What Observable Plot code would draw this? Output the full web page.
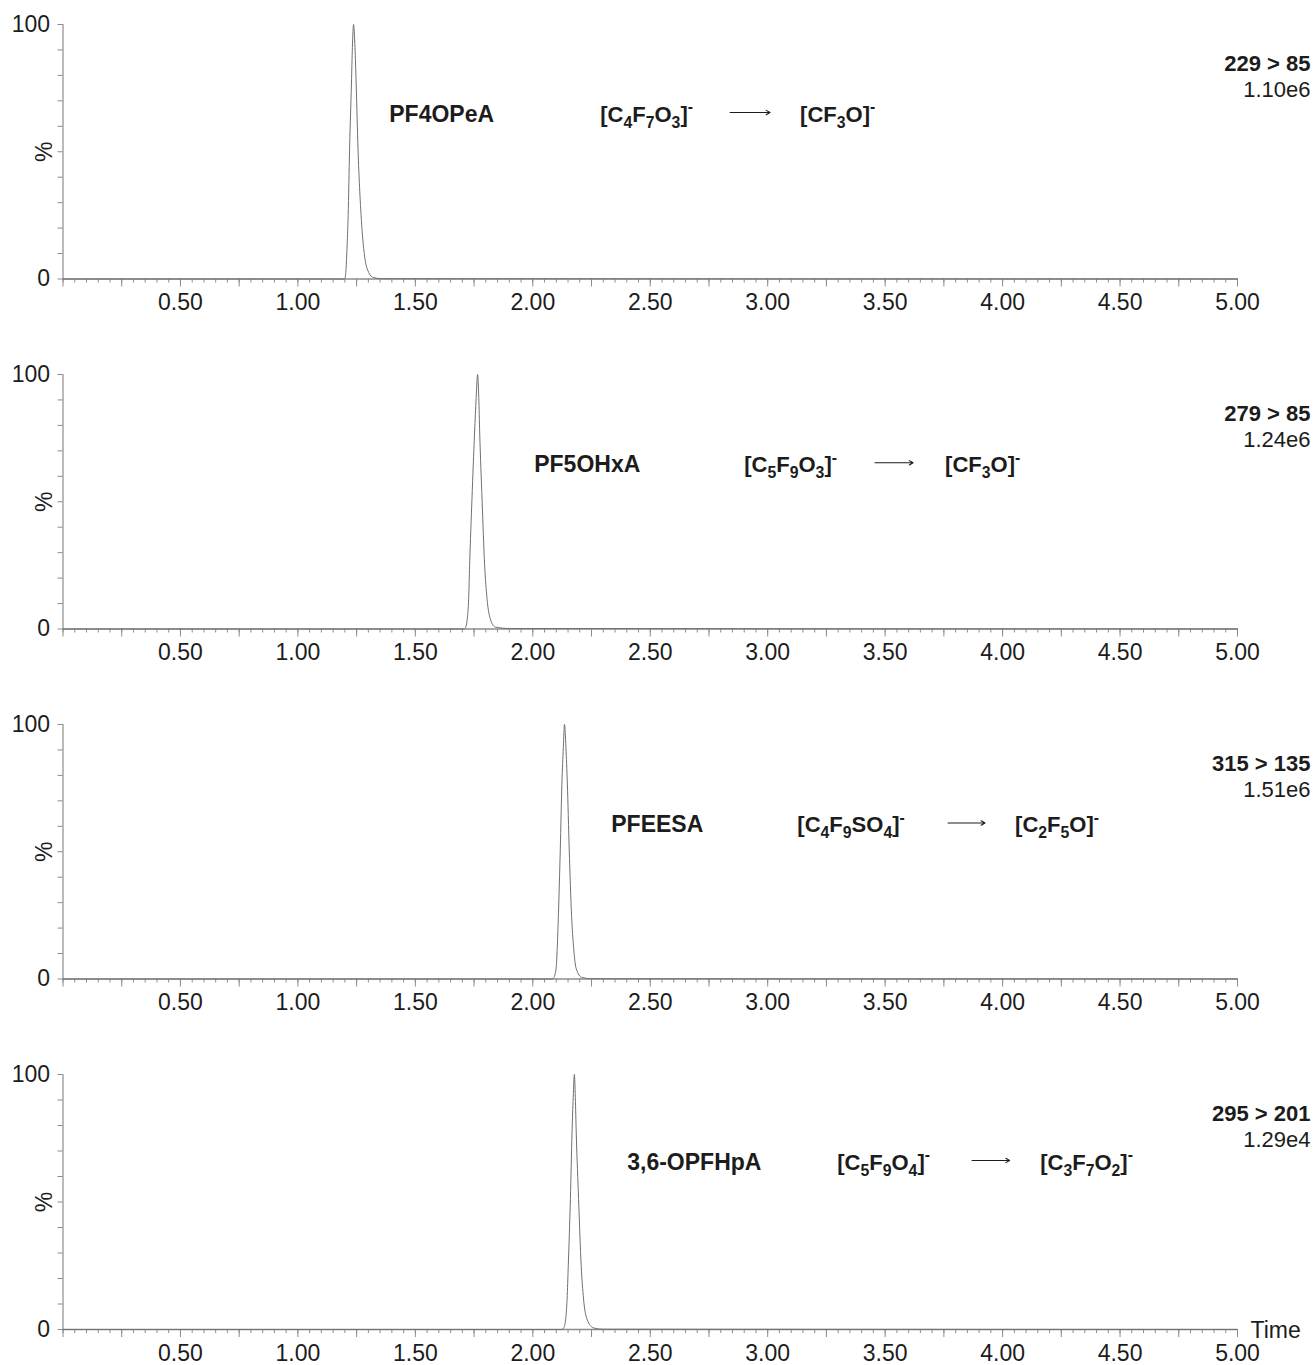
<!DOCTYPE html>
<html><head><meta charset="utf-8">
<script src="https://cdn.jsdelivr.net/npm/d3@7"></script>
<script src="https://cdn.jsdelivr.net/npm/@observablehq/plot@0.6"></script>
<style>
body{margin:0;background:#fff;}
#chart svg{display:block;}
</style></head><body><div id="chart"></div>
<script>
// ---------- data ----------
const compounds = ["PF4OPeA", "PF5OHxA", "PFEESA", "3,6-OPFHpA"];
const transitions = ["229 > 85", "279 > 85", "315 > 135", "295 > 201"];
const intensities = ["1.10e6", "1.24e6", "1.51e6", "1.29e4"];
const precursors = ["[C_4F_7O_3]^-", "[C_5F_9O_3]^-", "[C_4F_9SO_4]^-", "[C_5F_9O_4]^-"];
const products = ["[CF_3O]^-", "[CF_3O]^-", "[C_2F_5O]^-", "[C_3F_7O_2]^-"];
const xTickLabels = [0.50, 1.00, 1.50, 2.00, 2.50, 3.00, 3.50, 4.00, 4.50, 5.00];
const yTickLabels = [0, 100];

const time1 = [0, 1.195, 1.201, 1.205, 1.209, 1.214, 1.220, 1.228, 1.232, 1.237, 1.243, 1.248, 1.256, 1.269, 1.280, 1.295, 1.321, 1.360, 5.00];
const pct1  = [0, 0, 0.5, 4, 12, 25, 51, 77, 91, 100, 91, 77, 51, 25, 12, 4, 0.6, 0.1, 0];
const time2 = [0, 1.705, 1.713, 1.721, 1.727, 1.731, 1.741, 1.752, 1.759, 1.765, 1.770, 1.774, 1.784, 1.795, 1.805, 1.819, 1.840, 1.900, 5.00];
const pct2  = [0, 0, 0.5, 4, 12, 25, 51, 77, 91, 100, 91, 77, 51, 25, 12, 4, 0.8, 0.2, 0];
const time3 = [0, 2.082, 2.089, 2.099, 2.104, 2.109, 2.117, 2.124, 2.130, 2.135, 2.141, 2.147, 2.155, 2.165, 2.174, 2.185, 2.209, 2.250, 5.00];
const pct3  = [0, 0, 0.5, 4, 12, 25, 51, 77, 91, 100, 91, 77, 51, 25, 12, 4, 0.6, 0.1, 0];
const time4 = [0, 2.124, 2.131, 2.140, 2.146, 2.151, 2.160, 2.167, 2.172, 2.177, 2.181, 2.185, 2.195, 2.206, 2.216, 2.231, 2.259, 2.300, 5.00];
const pct4  = [0, 0, 0.5, 4, 12, 25, 51, 77, 91, 100, 91, 77, 51, 25, 12, 4, 0.6, 0.1, 0];

const times = [time1, time2, time3, time4];
const pcts = [pct1, pct2, pct3, pct4];

// ---------- layout (annotation placement) ----------
const annot = [
  {lx: 1.389, ly: 64.6, fx: 2.287, a1: 2.84, a2: 3.01, px: 3.138},
  {lx: 2.006, ly: 64.5, fx: 2.900, a1: 3.457, a2: 3.619, px: 3.755},
  {lx: 2.334, ly: 60.5, fx: 3.126, a1: 3.768, a2: 3.925, px: 4.053},
  {lx: 2.402, ly: 65.5, fx: 3.296, a1: 3.870, a2: 4.030, px: 4.160}
];

const FONT = "'Liberation Sans', Arial, sans-serif";
const TXT = "#1c1c1c";
const AX = "#8c8c8c";
const svgns = "http://www.w3.org/2000/svg";

function richify(el, fs) {
  const s = el.textContent;
  el.textContent = "";
  let shift = 0, i = 0;
  while (i < s.length) {
    let mode = "n", ch;
    if (s[i] === "_") { mode = "sub"; ch = s[i + 1]; i += 2; }
    else if (s[i] === "^") { mode = "sup"; ch = s[i + 1]; i += 2; }
    else { ch = s[i]; i++; }
    const target = mode === "sub" ? fs * 0.28 : mode === "sup" ? -fs * 0.42 : 0;
    const ts = document.createElementNS(svgns, "tspan");
    ts.textContent = ch;
    ts.setAttribute("dy", (target - shift).toFixed(2));
    shift = target;
    if (mode !== "n") ts.setAttribute("font-size", (fs * 0.72).toFixed(1));
    el.appendChild(ts);
  }
}

const container = document.getElementById("chart");

for (let k = 0; k < 4; k++) {
  const last = k === 3;
  const trace = times[k].map((t, i) => ({t, p: pcts[k][i]}));
  const a = annot[k];
  const minor = d3.range(0, 5.0001, 0.05);
  const major = d3.range(0, 5.0001, 0.25);
  const marks = [
    Plot.ruleY([0], {stroke: AX, strokeWidth: 1.3}),
    Plot.ruleX([0], {y1: 0, y2: 100, stroke: AX, strokeWidth: 1.2}),
    Plot.axisX(minor, {tickSize: 4, tickFormat: null, stroke: AX, text: null, label: null}),
    Plot.axisX(major, {tickSize: 8, tickFormat: null, stroke: AX, text: null, label: null}),
    Plot.axisX(xTickLabels, {tickSize: 0, tickPadding: 15, tickFormat: d => d.toFixed(2), fontSize: 23, fill: TXT, label: null}),
    Plot.axisY(d3.range(0, 101, 10), {tickSize: 5, stroke: AX, text: null, label: null}),
    Plot.axisY(yTickLabels, {tickSize: 0, tickPadding: 13, fontSize: 23, fill: TXT, label: null}),
    Plot.text(["%"], {x: 0, y: 50, rotate: -90, dx: -18, fontSize: 23, fill: TXT}),
    Plot.line(trace, {x: "t", y: "p", stroke: "#707070", strokeWidth: 1, curve: "monotone-x"}),
    Plot.text([compounds[k]], {x: a.lx, y: a.ly, text: d => d, textAnchor: "start", fontSize: 23, fontWeight: "bold", fill: TXT}),
    Plot.text([precursors[k]], {x: a.fx, y: a.ly, text: d => d, textAnchor: "start", fontSize: 22, fontWeight: "bold", fill: TXT}),
    Plot.text([products[k]], {x: a.px, y: a.ly, text: d => d, textAnchor: "start", fontSize: 22, fontWeight: "bold", fill: TXT}),
    Plot.arrow([0], {x1: a.a1, x2: a.a2, y1: a.ly + 0.8, y2: a.ly + 0.8, stroke: TXT, strokeWidth: 1.1, headLength: 6}),
    Plot.text([transitions[k]], {frameAnchor: "top-right", text: d => d, textAnchor: "end", dx: 73, dy: 31, fontSize: 22, fontWeight: "bold", fill: TXT}),
    Plot.text([intensities[k]], {frameAnchor: "top-right", text: d => d, textAnchor: "end", dx: 73, dy: 57, fontSize: 22, fill: TXT})
  ];
  if (last) {
    marks.push(Plot.text(["Time"], {frameAnchor: "bottom-right", text: d => d, textAnchor: "start", dx: 13, dy: 8, fontSize: 23, fill: TXT}));
  }
  const chart = Plot.plot({
    width: 1315,
    height: last ? 315 : 350,
    marginLeft: 62.5,
    marginRight: 78,
    marginTop: 24,
    marginBottom: last ? 36 : 71.5,
    x: {domain: [0, 5]},
    y: {domain: [0, 100]},
    style: {fontFamily: FONT, background: "#fff", color: TXT, overflow: "visible"},
    marks
  });
  d3.select(chart).selectAll("text").each(function () {
    const t = this.textContent;
    if (/[_^]/.test(t)) richify(this, 22);
  });
  container.appendChild(chart);
}
</script>
</body></html>
